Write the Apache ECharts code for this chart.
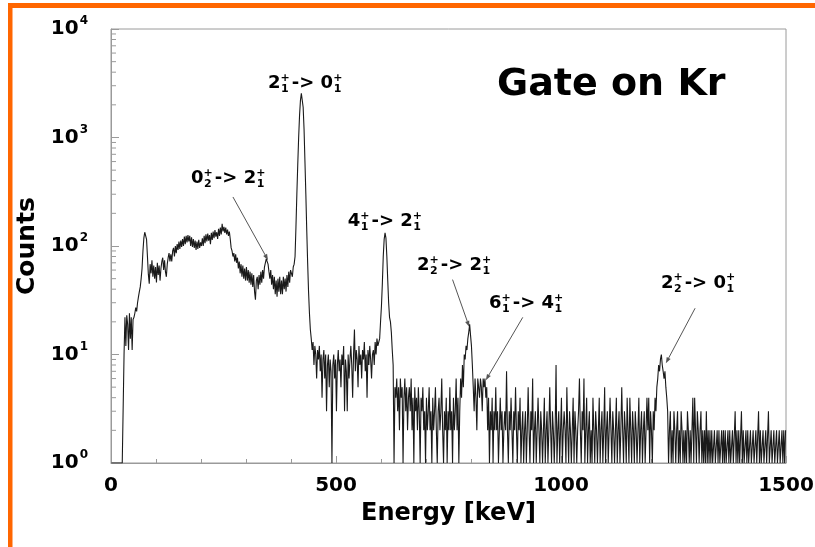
<!DOCTYPE html>
<html>
<head>
<meta charset="utf-8">
<script src="https://cdn.jsdelivr.net/npm/echarts@6/dist/echarts.min.js"></script>
<style>
  html, body { margin: 0; padding: 0; background: #fff; }
  #chart { width: 815px; height: 547px; }
</style>
</head>
<body>
<div id="chart"></div>
<script>
// Gamma-ray spectrum gated on Kr, 2 keV channels.
const binWidth = 2;

// counts per channel, 0 - 300 keV
const counts0to300 = [
  1,1,1,1,1,1,1,1,1,1,1,1,1,1,
  10,
  22,12,23,19,11,24,14,22,11,21,
  22,24,27,25,30,34,38,42,50,62,90,118,134,136,115,80,55,45,
  68,56,74,52,66,50,64,46,70,54,66,48,62,72,78,60,74,58,52,68,78,86,72,
  84,72,90,96,80,100,86,104,92,110,94,112,98,116,100,122,104,124,108,126,
  110,124,100,120,98,116,96,112,92,110,94,114,96,108,100,
  118,100,124,106,128,110,130,112,126,104,132,114,136,118,140,122,134,116,144,124,148,128,160,136,150,
  132,148,128,142,124,136,116,96,90,80,
  86,72,84,70,78,62,72,56,68,52,66,50,62,48
];

// counts per channel, 300 - 600 keV
const counts300to600 = [
  64,48,60,46,58,44,56,42,54,38,32,48,52,40,54,44,58,46,60,50,64,
  64,76,78,68,58,50,
  60,44,54,40,52,36,48,34,50,38,52,36,48,36,52,40,50,38,54,42,58,46,60,56,52,64,68,
  80,150,300,560,1000,1600,2200,2550,2450,1900,1200,600,300,140,70,38,24,17,
  14,11,13,8,12,10,6,11,9,12,
  7,10,4,9,11,6,10,3,8,10,
  5,9,7,1,8,10,6,9,3,8,
  11,7,9,5,10,8,12,3,9,7,
  3,10,6,9,12,8,4,10,17,7,
  11,9,5,12,8,10,6,11,9,13,
  7,10,4,11,8,12,9,6,10,11,
  8,13,10,14,12,12,14,20
];

// counts per channel, 600 - 900 keV
const counts600to900 = [
  28,45,80,115,132,118,80,48,30,22,20,16,11,8,1,
  5,4,6,3,5,2,6,4,5,1,
  4,6,3,5,2,4,5,3,6,2,
  4,1,5,3,4,2,5,3,1,4,
  3,5,2,3,1,4,2,3,5,2,
  3,1,4,2,3,5,2,1,3,4,
  2,3,6,2,1,3,2,4,1,3,
  2,5,2,3,1,4,2,3,6,2,
  4,1,3,6,4,8,5,10,
  9,12,11,14,16,19,15,
  12,8,5,3,6,4,2,6,5,4,6,5,3,6,5,6,4,5,2,4,1,
  3,2,4,1,3,2,5,2,3,1,2,4,2,3,1,2,3,2,7,2,1,3,2,4,2,1,3,2,5
];

// counts per channel, 900 - 1200 keV
const counts900to1200 = [
  2,1,3,2,4,1,2,3,1,2,
  3,1,2,5,2,1,3,2,6,1,
  2,3,1,2,4,2,1,3,2,1,
  2,4,1,2,3,1,2,5,2,1,
  3,2,1,2,8,1,2,3,1,2,
  4,1,2,3,2,1,5,2,1,3,
  2,1,2,4,1,3,2,1,2,3,
  6,2,1,3,2,6,1,2,4,1,
  2,3,1,2,1,4,2,1,3,2,
  1,2,4,1,2,3,1,2,5,1,
  2,3,1,2,4,2,1,3,2,1,
  2,4,1,2,3,1,2,5,2,1,
  3,2,1,4,2,1,4,2,1,3,
  2,1,3,2,1,2,4,1,2,3,
  1,2,3,1,2,4,2,4,1,3
];

// counts per channel, 1200 - 1500 keV
const counts1200to1500 = [
  2,1,3,2,4,3,5,6,8,7,
  9,10,8,7,6,7,5,4,3,1,
  2,3,1,2,1,3,2,1,2,3,
  1,2,1,3,2,1,2,1,2,1,
  3,2,1,2,1,2,4,1,4,2,
  1,3,2,1,2,3,1,2,1,2,
  1,3,1,2,1,2,1,2,1,1,
  2,1,1,2,1,2,1,1,2,1,
  2,1,2,1,1,2,1,2,1,1,
  2,1,1,3,1,2,1,2,1,1,
  3,1,2,1,1,2,1,2,1,1,
  2,1,1,2,1,1,2,1,1,3,
  1,2,1,1,2,1,1,2,1,1,
  3,1,1,2,1,1,2,1,1,2,
  1,1,2,1,1,2,1,2,1,2
];

// axis ticks
const energyTicks = [0, 500, 1000, 1500];
const countDecades = [1, 10, 100, 1000, 10000];
const minorMultipliers = [2, 3, 4, 5, 6, 7, 8, 9];

// level transitions: [level, subscript, superscript] pieces, label anchor, arrow tail and tip (keV, counts)
const transitions = [
  { parts: [['2', '1', '+'], '-> ', ['0', '1', '+']], at: [349, 2740] },
  { parts: [['0', '2', '+'], '-> ', ['2', '1', '+']], at: [178, 365], from: [271, 283], to: [349, 74] },
  { parts: [['4', '1', '+'], '-> ', ['2', '1', '+']], at: [526, 147] },
  { parts: [['2', '2', '+'], '-> ', ['2', '1', '+']], at: [680, 57.6], from: [759, 49], to: [796, 18] },
  { parts: [['6', '1', '+'], '-> ', ['4', '1', '+']], at: [840, 25.7], from: [915, 22], to: [833, 5.8] },
  { parts: [['2', '2', '+'], '-> ', ['0', '1', '+']], at: [1222, 40], from: [1298, 26.7], to: [1233, 8.3] }
];

const FONT = '"DejaVu Sans", sans-serif';
const AXIS_GRAY = '#9a9a9a';

const counts = [].concat(counts0to300, counts300to600, counts600to900, counts900to1200, counts1200to1500);
const spectrum = counts.map((c, i) => [i * binWidth + binWidth / 2, c]);

const minorCountTicks = [];
countDecades.slice(0, -1).forEach(d => minorMultipliers.forEach(m => minorCountTicks.push([0, d * m])));

const chart = echarts.init(document.getElementById('chart'), null, { renderer: 'canvas' });

chart.setOption({
  animation: false,
  backgroundColor: '#fff',
  grid: {
    left: 111, right: 29, top: 29, bottom: 84,
    show: true, borderColor: AXIS_GRAY, borderWidth: 1,
    containLabel: false, outerBoundsMode: 'none'
  },
  xAxis: {
    type: 'value',
    min: energyTicks[0], max: energyTicks[energyTicks.length - 1],
    interval: energyTicks[1] - energyTicks[0],
    name: 'Energy [keV]',
    nameLocation: 'middle',
    nameGap: 39,
    nameTextStyle: { fontFamily: FONT, fontWeight: 'bold', fontSize: 24, color: '#000' },
    axisLine: { show: true, lineStyle: { color: AXIS_GRAY, width: 1 } },
    axisTick: { show: true, inside: true, length: 7, lineStyle: { color: AXIS_GRAY } },
    minorTick: { show: true, splitNumber: 5, length: 4, lineStyle: { color: AXIS_GRAY } },
    splitLine: { show: false },
    minorSplitLine: { show: false },
    axisLabel: {
      fontFamily: FONT, fontWeight: 'bold', fontSize: 20, color: '#000', margin: 13,
      formatter: v => String(v)
    }
  },
  yAxis: {
    type: 'log',
    logBase: 10,
    min: countDecades[0], max: countDecades[countDecades.length - 1],
    name: 'Counts',
    nameLocation: 'middle',
    nameGap: 61,
    nameTextStyle: { fontFamily: FONT, fontWeight: 'bold', fontSize: 25, color: '#000' },
    axisLine: { show: true, lineStyle: { color: AXIS_GRAY, width: 1 } },
    axisTick: { show: true, inside: true, length: 8, lineStyle: { color: AXIS_GRAY } },
    splitLine: { show: false },
    axisLabel: {
      margin: 23,
      formatter: v => '{b|10}{s|' + Math.round(Math.log10(v)) + '}',
      rich: {
        b: { fontFamily: FONT, fontWeight: 'bold', fontSize: 20, color: '#000' },
        s: { fontFamily: FONT, fontWeight: 'bold', fontSize: 12, color: '#000', padding: [0, 0, 16, 1] }
      }
    }
  },
  series: [
    {
      // decade sub-divisions on the count axis
      type: 'custom',
      silent: true,
      clip: false,
      data: minorCountTicks,
      z: 1,
      renderItem: (params, api) => {
        const p = api.coord([api.value(0), api.value(1)]);
        return {
          type: 'line',
          shape: { x1: p[0], y1: p[1], x2: p[0] + 5, y2: p[1] },
          style: { stroke: AXIS_GRAY, lineWidth: 1 }
        };
      }
    },
    {
      type: 'line',
      data: spectrum,
      showSymbol: false,
      symbol: 'none',
      sampling: null,
      z: 3,
      lineStyle: { color: '#1a1a1a', width: 1.1 }
    }
  ]
});

// text helpers for the transition labels
const measureCtx = document.createElement('canvas').getContext('2d');
function textWidth(str, size) {
  measureCtx.font = 'bold ' + size + 'px ' + FONT;
  return measureCtx.measureText(str).width;
}
function textEl(str, x, y, size) {
  return {
    type: 'text', x: x, y: y, silent: true,
    style: { text: str, fontFamily: FONT, fontWeight: 'bold', fontSize: size, fill: '#000', align: 'left', verticalAlign: 'middle' }
  };
}

const MAIN = 18, SMALL = 11;
const graphics = [];

transitions.forEach(t => {
  const a = chart.convertToPixel({ gridIndex: 0 }, t.at);
  let cx = a[0];
  const base = a[1];
  t.parts.forEach(part => {
    if (typeof part === 'string') {
      graphics.push(textEl(part, cx, base - 6.3, MAIN));
      cx += textWidth(part, MAIN);
    } else {
      const [main, sub, sup] = part;
      graphics.push(textEl(main, cx, base - 6.3, MAIN));
      cx += textWidth(main, MAIN);
      graphics.push(textEl(sup, cx, base - 12, SMALL));
      graphics.push(textEl(sub, cx + 0.5, base - 0.5, SMALL));
      cx += Math.max(textWidth(sub, SMALL), textWidth(sup, SMALL)) + 2;
    }
  });
  if (t.from) {
    const p0 = chart.convertToPixel({ gridIndex: 0 }, t.from);
    const p1 = chart.convertToPixel({ gridIndex: 0 }, t.to);
    const dx = p1[0] - p0[0], dy = p1[1] - p0[1];
    const len = Math.hypot(dx, dy);
    const ux = dx / len, uy = dy / len;
    const head = 6, half = 2.2;
    const bx = p1[0] - ux * head, by = p1[1] - uy * head;
    graphics.push({
      type: 'line', silent: true,
      shape: { x1: p0[0], y1: p0[1], x2: bx, y2: by },
      style: { stroke: '#555', lineWidth: 1 }
    });
    graphics.push({
      type: 'polygon', silent: true,
      shape: { points: [[p1[0], p1[1]], [bx - uy * half, by + ux * half], [bx + uy * half, by - ux * half]] },
      style: { fill: '#555' }
    });
  }
});

// title
graphics.push({
  type: 'text', x: 497, y: 85, silent: true,
  style: { text: 'Gate on Kr', fontFamily: FONT, fontWeight: 'bold', fontSize: 38, fill: '#000', align: 'left', verticalAlign: 'middle' }
});

// orange page frame
graphics.push({ type: 'rect', silent: true, shape: { x: 8, y: 3, width: 807, height: 5 }, style: { fill: '#ff6600' } });
graphics.push({ type: 'rect', silent: true, shape: { x: 8, y: 3, width: 4.5, height: 544 }, style: { fill: '#ff6600' } });

chart.setOption({ graphic: graphics });
</script>
</body>
</html>
